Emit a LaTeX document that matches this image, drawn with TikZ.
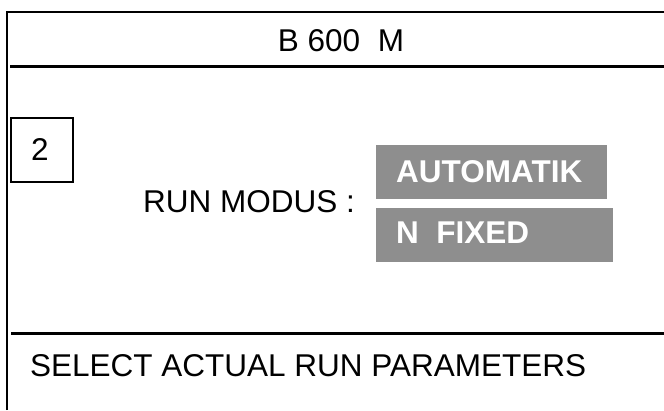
\documentclass[tikz,border=0pt]{standalone}
\usepackage{fontspec}
\setmainfont{Liberation Sans}
\usepackage{tikz}
\usetikzlibrary{positioning}

\definecolor{btngray}{RGB}{142,142,142}

\tikzset{
    label/.style={inner sep=0pt, font=\fontsize{31.5}{38}\selectfont},
    btn/.style={fill=btngray, draw=none, inner sep=0pt},
    btntext/.style={inner sep=0pt, text=white, font=\fontsize{31.5}{38}\selectfont\bfseries},
}

\begin{document}
\begin{tikzpicture}[x=1pt,y=-1pt]

        \useasboundingbox (0,0) rectangle (664,410);

        %=====================
        % Frame
        %=====================
        \draw[line width=2pt] (6.5,410) -- (6.5,11.5) -- (664,11.5);

        %=====================
        % Header
        %=====================
        \node[label, anchor=base] (title) at (341,51) {B 600\ \ M};
        \draw[line width=3pt] (10,66.5) -- (664,66.5);

        %=====================
        % Page number box
        %=====================
        \node[draw, line width=1.5pt, minimum width=62, minimum height=64,
              anchor=north west, inner sep=0pt] (pagebox) at (10,117) {};
        \node[label, anchor=base] (pagenum) at (40,160) {2};

        %=====================
        % Run mode selection
        %=====================
        \node[label, anchor=base west] (runmodus) at (143,212) {RUN MODUS :};

        \node[btn, anchor=north west, minimum width=231, minimum height=54] (auto) at (376,145) {};
        \node[btntext, anchor=base west] (autotext) at (396,182) {AUTOMATIK};

        \node[btn, anchor=north west, minimum width=237, minimum height=54] (fixed) at (376,208) {};
        \node[btntext, anchor=base west] (fixedtext) at (396,243) {N\ \ FIXED};

        %=====================
        % Footer
        %=====================
        \draw[line width=3pt] (11,333) -- (664,333);
        \node[label, anchor=base west] (hint) at (30,376) {SELECT ACTUAL RUN PARAMETERS};

    \end{tikzpicture}
\end{document}
